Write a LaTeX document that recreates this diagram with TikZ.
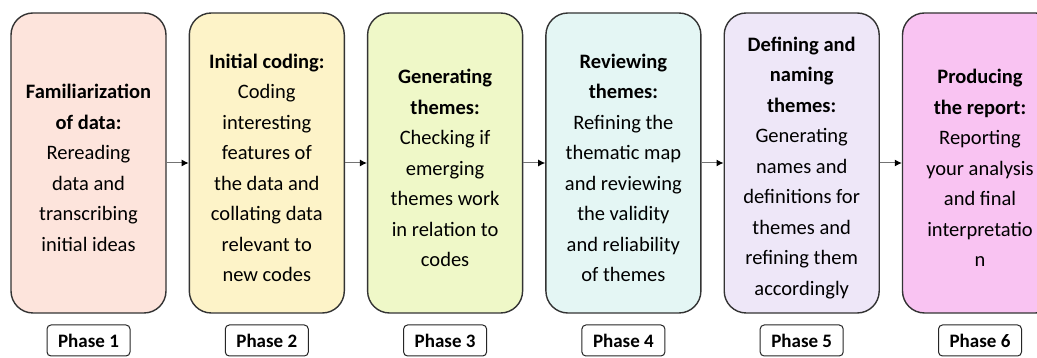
\documentclass[tikz,border=0pt]{standalone}
\usepackage{fontspec}
\setmainfont{Carlito}
\usetikzlibrary{arrows.meta}

\definecolor{famfill}{HTML}{FDE4DC}
\definecolor{codefill}{HTML}{FDF3C8}
\definecolor{genfill}{HTML}{EFF8C8}
\definecolor{revfill}{HTML}{E4F6F4}
\definecolor{deffill}{HTML}{EEE7F8}
\definecolor{repfill}{HTML}{F9C3F2}

\begin{document}
\begin{tikzpicture}[x=1pt,y=1pt,
    stage/.style={draw=black!80,line width=1.4pt,rounded corners=22pt,
      minimum width=155pt,minimum height=300pt},
    stage text/.style={align=center,font=\fontsize{20.5}{30.5}\selectfont},
    phase/.style={draw=black!85,line width=1pt,rounded corners=4pt,
      minimum width=83pt,minimum height=31pt,
      font=\fontsize{19}{20}\selectfont\bfseries},
    link/.style={draw=black!55,line width=1pt,-{Latex[length=7pt,width=7pt,black]}}]
 \clip (0,0) rectangle (1037,358);
 \fill[white] (0,0) rectangle (1037,358);
 \foreach \C/\T [count=\Z] in {%
   famfill/{\textbf{Familiarization}\\\textbf{of data:}\\Rereading\\data and\\transcribing\\initial ideas},
   codefill/{\textbf{Initial coding:}\\Coding\\interesting\\features of\\the data and\\collating data\\relevant to\\new codes},
   genfill/{\textbf{Generating}\\\textbf{themes:}\\Checking if\\emerging\\themes work\\in relation to\\codes},
   revfill/{\textbf{Reviewing}\\\textbf{themes:}\\Refining the\\thematic map\\and reviewing\\the validity\\and reliability\\of themes},
   deffill/{\textbf{Defining and}\\\textbf{naming}\\\textbf{themes:}\\Generating\\names and\\definitions for\\themes and\\refining them\\accordingly},
   repfill/{\textbf{Producing}\\\textbf{the report:}\\Reporting\\your analysis\\and final\\interpretatio\\n}}
 {\node[stage,fill=\C] (s-\Z) at ({88.5+178.3*(\Z-1)},195) {};
  \node[stage text] (t-\Z) at ([yshift=-5pt]s-\Z.center) {\T};
  \node[phase] (p-\Z) at ({88.5+178.3*(\Z-1)},17.5) {Phase \Z};
 }
 % connectors between the stages
 \foreach \Z [remember=\Z as \LastZ (initially 1)] in {2,...,6}
  \draw[link] (s-\LastZ.east) -- (s-\Z.west);
\end{tikzpicture}
\end{document}
